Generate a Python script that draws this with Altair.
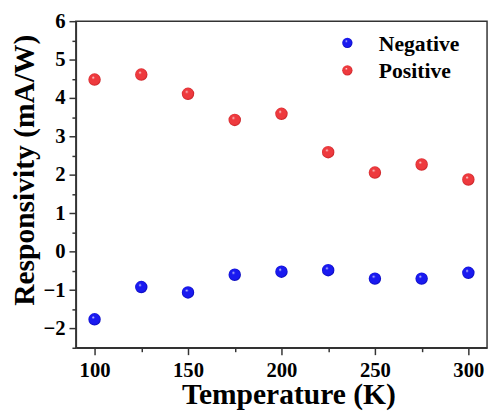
import altair as alt
import pandas as pd

temperature = [100, 125, 150, 175, 200, 225, 250, 275, 300]
negative = [-1.76, -0.92, -1.06, -0.60, -0.52, -0.48, -0.70, -0.70, -0.55]
positive = [4.48, 4.61, 4.11, 3.43, 3.59, 2.59, 2.06, 2.27, 1.88]
series_names = ["Negative", "Positive"]
x_ticks = [100, 125, 150, 175, 200, 225, 250, 275, 300]
y_ticks = [-2.5, -2, -1.5, -1, -0.5, 0, 0.5, 1, 1.5, 2, 2.5, 3, 3.5, 4, 4.5, 5, 5.5, 6]

FONT = "Liberation Serif"

neg_df = pd.DataFrame({"T": temperature, "R": negative, "series": series_names[0]})
pos_df = pd.DataFrame({"T": temperature, "R": positive, "series": series_names[1]})


def ball(main, edge):
    return alt.RadialGradient(
        gradient="radial",
        x1=0.38, y1=0.32, r1=0.0,
        x2=0.5, y2=0.5, r2=0.55,
        stops=[
            alt.GradientStop(offset=0.0, color="#ffffff"),
            alt.GradientStop(offset=0.22, color=main),
            alt.GradientStop(offset=0.75, color=main),
            alt.GradientStop(offset=1.0, color=edge),
        ],
    )


blue = ball("#1a1af0", "#00009a")
red = ball("#ee3a3e", "#b01418")

x_enc = alt.X(
    "T:Q",
    scale=alt.Scale(domain=[90, 310], nice=False, zero=False),
    axis=alt.Axis(
        title="Temperature (K)",
        values=x_ticks,
        format="d",
        labelExpr="datum.value % 50 === 0 ? datum.label : ''",
        tickSize={"condition": {"test": "datum.value % 50 !== 0", "value": 4}, "value": 7},
        labelPadding=5,
        titleX=216,
        titleY=57,
        titleAlign="center",
        titleBaseline="alphabetic",
    ),
)
y_enc = alt.Y(
    "R:Q",
    scale=alt.Scale(domain=[-2.5, 6], nice=False, zero=False),
    axis=alt.Axis(
        title="Responsivity (mA/W)",
        values=y_ticks,
        format="~g",
        labelExpr="datum.value % 1 === 0 ? datum.label : ''",
        tickSize={"condition": {"test": "datum.value % 1 !== 0", "value": 4}, "value": 7},
        labelPadding=4,
        titleX=-52,
        titleY=151,
        titleAngle=-90,
        titleAlign="center",
        titleBaseline="middle",
    ),
)

neg_layer = alt.Chart(neg_df).mark_point(
    shape="circle", filled=True, fill=blue, size=160, opacity=1, strokeWidth=0
).encode(x=x_enc, y=y_enc)
pos_layer = alt.Chart(pos_df).mark_point(
    shape="circle", filled=True, fill=red, size=160, opacity=1, strokeWidth=0
).encode(x=x_enc, y=y_enc)

leg_df = pd.DataFrame({"series": series_names})
leg_neg_pt = alt.Chart(leg_df).transform_filter(alt.datum.series == series_names[0]).mark_point(
    shape="circle", filled=True, fill=blue, size=110, opacity=1, strokeWidth=0
).encode(x=alt.value(276), y=alt.value(22))
leg_pos_pt = alt.Chart(leg_df).transform_filter(alt.datum.series == series_names[1]).mark_point(
    shape="circle", filled=True, fill=red, size=110, opacity=1, strokeWidth=0
).encode(x=alt.value(276), y=alt.value(50))
leg_neg_txt = alt.Chart(leg_df).transform_filter(alt.datum.series == series_names[0]).mark_text(
    align="left", baseline="middle", font=FONT, fontSize=22, fontWeight="bold", color="black"
).encode(x=alt.value(308), y=alt.value(23), text="series:N")
leg_pos_txt = alt.Chart(leg_df).transform_filter(alt.datum.series == series_names[1]).mark_text(
    align="left", baseline="middle", font=FONT, fontSize=22, fontWeight="bold", color="black"
).encode(x=alt.value(308), y=alt.value(51), text="series:N")

chart = alt.layer(
    neg_layer, pos_layer, leg_neg_pt, leg_pos_pt, leg_neg_txt, leg_pos_txt
).properties(
    width=418,
    height=332,
    autosize=alt.AutoSizeParams(type="none"),
    padding={"left": 69, "top": 10, "right": 3, "bottom": 68},
    background="white",
).configure_view(
    stroke="#333333", strokeWidth=1.5
).configure_axis(
    domainColor="#333333",
    domainWidth=1.5,
    tickColor="#333333",
    tickWidth=1.5,
    grid=False,
    labelFont=FONT,
    labelFontSize=21,
    labelFontWeight="bold",
    labelColor="black",
    titleFont=FONT,
    titleFontSize=30,
    titleFontWeight="bold",
    titleColor="black",
)

chart.save("out.html", embed_options={"renderer": "svg", "actions": False})
